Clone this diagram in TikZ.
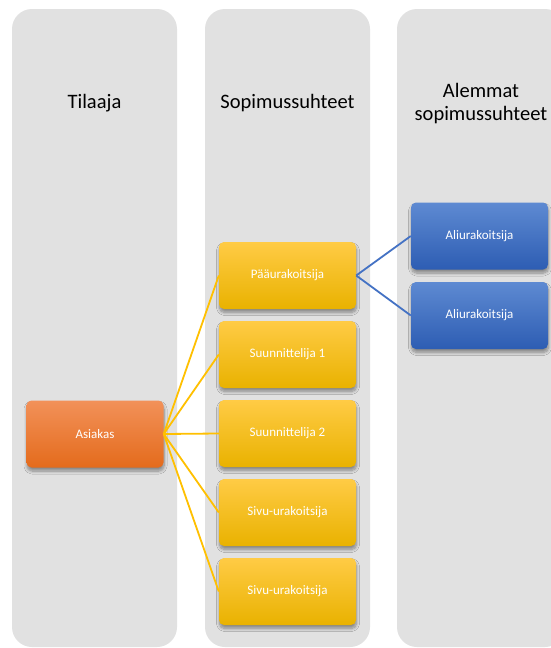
\documentclass[tikz,border=0pt]{standalone}
\usepackage{fontspec}
\setmainfont{Carlito}
\usetikzlibrary{shadows.blur}
\definecolor{lanebg}{HTML}{E1E1E1}
\definecolor{orgtop}{HTML}{F29159}
\definecolor{orgmid}{HTML}{F07C30}
\definecolor{orgbot}{HTML}{E46B1C}
\definecolor{yeltop}{HTML}{FFCB45}
\definecolor{yelmid}{HTML}{FFC000}
\definecolor{yelbot}{HTML}{E9B200}
\definecolor{blutop}{HTML}{5E8AD2}
\definecolor{blumid}{HTML}{4472C4}
\definecolor{blubot}{HTML}{2D5DB3}
\definecolor{yelline}{HTML}{FFC000}
\definecolor{bluline}{HTML}{4472C4}
\tikzset{
  lane/.style={fill=lanebg, draw=none, rounded corners=20pt},
  lanetitle/.style={font=\fontsize{20.5}{24}\selectfont, text=black, align=center},
  card/.style={minimum width=137pt, minimum height=67pt, inner sep=0pt,
    rounded corners=5pt, draw=none, text=white,
    font=\fontsize{13}{15}\selectfont,
    blur shadow={shadow xshift=0.5pt, shadow yshift=-3.5pt, shadow blur radius=3pt,
      shadow blur steps=8, shadow opacity=40}},
  orangecard/.style={card, top color=orgtop, middle color=orgmid, bottom color=orgbot},
  yellowcard/.style={card, top color=yeltop, middle color=yelmid, bottom color=yelbot},
  bluecard/.style={card, top color=blutop, middle color=blumid, bottom color=blubot},
  yellink/.style={draw=yelline, line width=1.8pt},
  blulink/.style={draw=bluline, line width=1.8pt},
}
\begin{document}
\begin{tikzpicture}[x=1pt, y=-1pt]
  \useasboundingbox (0,0) rectangle (551,648);
  \clip (0,0) rectangle (551,648);
  \fill[white] (0,0) rectangle (551,648);

  % swimlanes
  \path[lane] (12,9) rectangle (177,647);
  \path[lane] (205,9) rectangle (370,647);
  \path[lane] (397,9) rectangle (565,647);

  % lane titles
  \node[lanetitle] (t1) at (94.5,103) {Tilaaja};
  \node[lanetitle] (t2) at (287.5,103) {Sopimussuhteet};
  \node[lanetitle] (t3) at (481,104) {Alemmat\\[-1pt]sopimussuhteet};

  % cards
  \node[orangecard] (asiakas) at (95,434) {Asiakas};
  \node[yellowcard] (paa) at (287.5,275.5) {Pääurakoitsija};
  \node[yellowcard] (suu1) at (287.5,354.5) {Suunnittelija 1};
  \node[yellowcard] (suu2) at (287.5,433.5) {Suunnittelija 2};
  \node[yellowcard] (siv1) at (287.5,512.5) {Sivu-urakoitsija};
  \node[yellowcard] (siv2) at (287.5,591.5) {Sivu-urakoitsija};
  \node[bluecard] (ali1) at (479.5,236) {Aliurakoitsija};
  \node[bluecard] (ali2) at (479.5,315.5) {Aliurakoitsija};

  % links
  \foreach \t in {paa,suu1,suu2,siv1,siv2}
    \draw[yellink] (asiakas.east) -- (\t.west);
  \draw[blulink] (paa.east) -- (ali1.west);
  \draw[blulink] (paa.east) -- (ali2.west);
\end{tikzpicture}
\end{document}
